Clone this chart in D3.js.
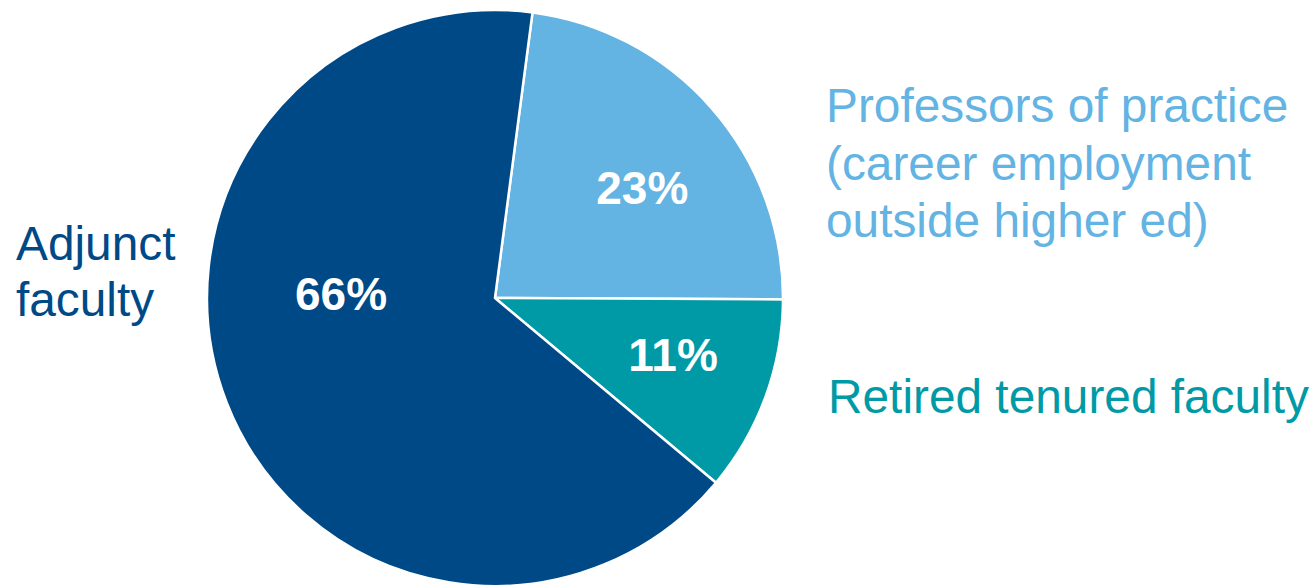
<!DOCTYPE html>
<html>
<head>
<meta charset="utf-8">
<script src="https://cdn.jsdelivr.net/npm/d3@7/dist/d3.min.js"></script>
<style>
  html, body { margin: 0; padding: 0; background: #fff; }
  svg { display: block; }
  text { font-family: "Liberation Sans", Arial, sans-serif; }
</style>
</head>
<body>
<svg id="chart" width="1316" height="585"></svg>
<script>
// Data
const categories = ["Professors of practice (career employment outside higher ed)", "Retired tenured faculty", "Adjunct faculty"];
const values = [23, 11, 66];
const valueLabels = ["23%", "11%", "66%"];
const colors = ["#63b3e3", "#009aa6", "#004987"];
const categoryLines = [
  ["Professors of practice", "(career employment", "outside higher ed)"],
  ["Retired tenured faculty"],
  ["Adjunct", "faculty"]
];

const svg = d3.select("#chart");
const W = 1316, H = 585;
const cx = 495, cy = 298, R = 288;

const data = values.map((v, i) => ({ value: v, label: valueLabels[i], color: colors[i], lines: categoryLines[i], name: categories[i] }));

const total = d3.sum(values);
const start = Math.PI / 2 - (values[0] / total) * 2 * Math.PI + 0.005;

const pie = d3.pie().value(d => d.value).sort(null)
  .startAngle(start).endAngle(start + 2 * Math.PI);
const arcs = pie(data);

const arc = d3.arc().innerRadius(0).outerRadius(R);

const g = svg.append("g").attr("transform", `translate(${cx},${cy})`);

g.selectAll("path.slice")
  .data(arcs)
  .join("path")
  .attr("class", "slice")
  .attr("d", arc)
  .attr("fill", d => d.data.color)
  .attr("stroke", "#fff")
  .attr("stroke-width", 2.5)
  .attr("stroke-linejoin", "round");

// inner percentage labels (layout: radius and angle tweak per slice)
const labelRadius = [184, 187, 154];
const labelAngleShift = [4.3 * Math.PI / 180, -2.3 * Math.PI / 180, 22.9 * Math.PI / 180];
g.selectAll("text.pct")
  .data(arcs)
  .join("text")
  .attr("class", "pct")
  .each(function(d, i) {
    const a = (d.startAngle + d.endAngle) / 2 + labelAngleShift[i];
    const r = labelRadius[i];
    d3.select(this)
      .attr("x", r * Math.sin(a))
      .attr("y", -r * Math.cos(a));
  })
  .attr("text-anchor", "middle")
  .attr("dominant-baseline", "central")
  .attr("fill", "#fff")
  .attr("font-weight", "bold")
  .attr("font-size", 46)
  .text(d => d.data.label);

// outer category labels
const outerPos = [
  { x: 826, y: 122, anchor: "start", lh: 57.5 },
  { x: 828, y: 413, anchor: "start", lh: 57 },
  { x: 16,  y: 260, anchor: "start", lh: 56 }
];
data.forEach((d, i) => {
  const p = outerPos[i];
  const t = svg.append("text")
    .attr("x", p.x).attr("y", p.y)
    .attr("text-anchor", p.anchor)
    .attr("fill", d.color)
    .attr("font-size", 47.8);
  d.lines.forEach((ln, j) => {
    t.append("tspan").attr("x", p.x).attr("y", p.y + j * p.lh).text(ln);
  });
});
</script>
</body>
</html>
